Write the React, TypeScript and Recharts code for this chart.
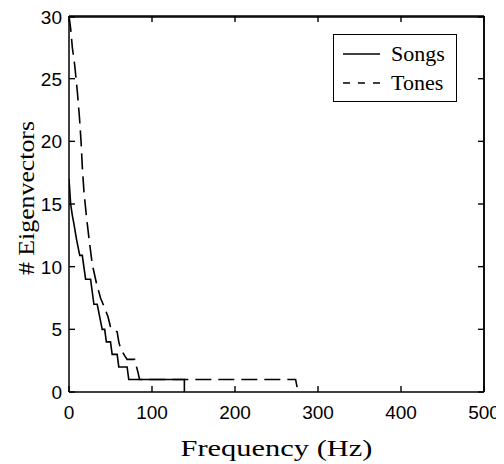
import React from 'react';
import { LineChart, Line, XAxis, YAxis, Legend, ReferenceLine } from 'recharts';

// Songs curve: frequency (Hz) vs # eigenvectors
const songsFreq = [0, 1, 2, 4, 6, 9, 12, 13, 16, 20, 26, 30, 34, 37, 40, 43, 45, 50, 52, 58, 60, 70, 72, 139, 139];
const songsCount = [17, 16, 15, 14.1, 13.4, 12.2, 11.2, 10.9, 10.9, 9, 9, 7, 7, 6, 5, 5, 4, 4, 3, 3, 2, 2, 1, 1, 0];

// Tones curve
const tonesFreq = [0, 2, 4, 7, 10, 12.5, 14.5, 16, 18, 21, 24, 28, 33, 38, 43, 47, 50, 52, 58, 60, 62, 67, 70, 79, 83, 85, 273, 276];
const tonesCount = [30, 29, 27.5, 26, 24, 22, 20, 18, 16, 14, 12.3, 10.2, 8.7, 7.5, 6.7, 6, 5.2, 5, 4.8, 4, 3.5, 2.9, 2.6, 2.6, 1.6, 1, 1, 0];

const xTicks = [0, 100, 200, 300, 400, 500];
const yTicks = [0, 5, 10, 15, 20, 25, 30];
const xDomain = [0, 500];
const yDomain = [0, 30];
const seriesNames = ['Songs', 'Tones'];
const xLabel = 'Frequency (Hz)';
const yLabel = '# Eigenvectors';

const songsData = songsFreq.map((f, i) => ({ f, v: songsCount[i] }));
const tonesData = tonesFreq.map((f, i) => ({ f, v: tonesCount[i] }));

// layout
const W = 496;
const H = 456;
const MARGIN = { top: 8, right: 20, bottom: 8, left: 8 };
const PLOT_TOP = MARGIN.top;
const PLOT_RIGHT = W - MARGIN.right;

const sans = '"Liberation Sans", Arial, sans-serif';
const serif = '"Liberation Serif", "Times New Roman", serif';
const TICK_FONT = 19;
const X_MARGIN = 13;
const Y_MARGIN = 7;
const IN_TICK = 6;

const XTick = (props: any) => {
  const { x, y, payload } = props;
  const axisY = y - X_MARGIN;
  const isLast = payload.value === xDomain[1];
  return (
    <g>
      <line x1={x} x2={x} y1={axisY} y2={axisY - IN_TICK} stroke="#000" strokeWidth={1.4} />
      <line x1={x} x2={x} y1={PLOT_TOP} y2={PLOT_TOP + IN_TICK} stroke="#000" strokeWidth={1.4} />
      {isLast && <line x1={x} x2={x} y1={PLOT_TOP} y2={axisY} stroke="#000" strokeWidth={1.5} />}
      <text x={x} y={y} dy="0.72em" textAnchor="middle" fontFamily={sans} fontSize={TICK_FONT} fill="#000">
        {payload.value}
      </text>
    </g>
  );
};

const YTick = (props: any) => {
  const { x, y, payload } = props;
  const axisX = x + Y_MARGIN;
  const isTop = payload.value === yDomain[1];
  return (
    <g>
      <line x1={axisX} x2={axisX + IN_TICK} y1={y} y2={y} stroke="#000" strokeWidth={1.4} />
      <line x1={PLOT_RIGHT} x2={PLOT_RIGHT - IN_TICK} y1={y} y2={y} stroke="#000" strokeWidth={1.4} />
      {isTop && <line x1={axisX} x2={PLOT_RIGHT} y1={y} y2={y} stroke="#000" strokeWidth={1.5} />}
      <text x={x} y={y} dy="0.36em" textAnchor="end" fontFamily={sans} fontSize={TICK_FONT} fill="#000">
        {payload.value}
      </text>
    </g>
  );
};

const XLabel = (props: any) => {
  const vb = props.viewBox || {};
  const cx = vb.x + vb.width / 2;
  const by = vb.y + vb.height;
  return (
    <text
      x={cx}
      y={by}
      textAnchor="middle"
      fontFamily={serif}
      fontSize={23}
      fill="#000"
      textLength={192}
      lengthAdjust="spacingAndGlyphs"
    >
      {xLabel}
    </text>
  );
};

const YLabel = (props: any) => {
  const vb = props.viewBox || {};
  const cx = vb.x + 18;
  const cy = vb.y + vb.height / 2 - 6;
  return (
    <text
      x={cx}
      y={cy}
      textAnchor="middle"
      fontFamily={serif}
      fontSize={23}
      fill="#000"
      textLength={154}
      lengthAdjust="spacingAndGlyphs"
      transform={`rotate(-90 ${cx} ${cy})`}
    >
      {yLabel}
    </text>
  );
};

const LegendBox = () => (
  <div
    style={{
      border: '1px solid #000',
      background: '#fff',
      width: 124,
      height: 68,
      boxSizing: 'border-box',
      position: 'relative',
      fontFamily: serif,
      fontSize: 22,
      color: '#000',
    }}
  >
    {seriesNames.map((name, i) => (
      <div
        key={name}
        style={{
          position: 'absolute',
          left: 9,
          top: 5 + i * 29,
          height: 28,
          display: 'flex',
          alignItems: 'center',
          whiteSpace: 'nowrap',
        }}
      >
        <svg width={37} height={4} style={{ marginRight: 11 }}>
          <line
            x1={0}
            y1={2}
            x2={37}
            y2={2}
            stroke="#000"
            strokeWidth={1.4}
            strokeDasharray={i === 1 ? '7 8' : undefined}
          />
        </svg>
        <span>{name}</span>
      </div>
    ))}
  </div>
);

export default function App() {
  return (
    <LineChart width={W} height={H} margin={MARGIN}>
      <XAxis
        xAxisId="main"
        dataKey="f"
        type="number"
        domain={xDomain}
        ticks={xTicks}
        allowDataOverflow
        height={64}
        tickSize={0}
        tickMargin={X_MARGIN}
        tickLine={false}
        tick={<XTick />}
        axisLine={{ stroke: '#000', strokeWidth: 1.5 }}
        label={<XLabel />}
      />
      <YAxis
        yAxisId="main"
        type="number"
        domain={yDomain}
        ticks={yTicks}
        allowDataOverflow
        width={53}
        tickSize={0}
        tickMargin={Y_MARGIN}
        tickLine={false}
        tick={<YTick />}
        axisLine={{ stroke: '#000', strokeWidth: 1.5 }}
        label={<YLabel />}
      />
      <ReferenceLine xAxisId="main" yAxisId="main" y={yDomain[1]} stroke="#000" strokeWidth={1.5} />
      <ReferenceLine xAxisId="main" yAxisId="main" x={xDomain[1]} stroke="#000" strokeWidth={1.5} />
      <Legend
        layout="horizontal"
        verticalAlign="middle"
        align="center"
        wrapperStyle={{ position: 'absolute', left: 325, top: 26, width: 124, height: 68 }}
        content={() => <LegendBox />}
      />
      <Line
        xAxisId="main"
        yAxisId="main"
        data={songsData}
        dataKey="v"
        name={seriesNames[0]}
        type="linear"
        stroke="#000"
        strokeWidth={1.6}
        dot={false}
        isAnimationActive={false}
      />
      <Line
        xAxisId="main"
        yAxisId="main"
        data={tonesData}
        dataKey="v"
        name={seriesNames[1]}
        type="linear"
        stroke="#000"
        strokeWidth={1.6}
        strokeDasharray="16 7"
        dot={false}
        isAnimationActive={false}
      />
    </LineChart>
  );
}
